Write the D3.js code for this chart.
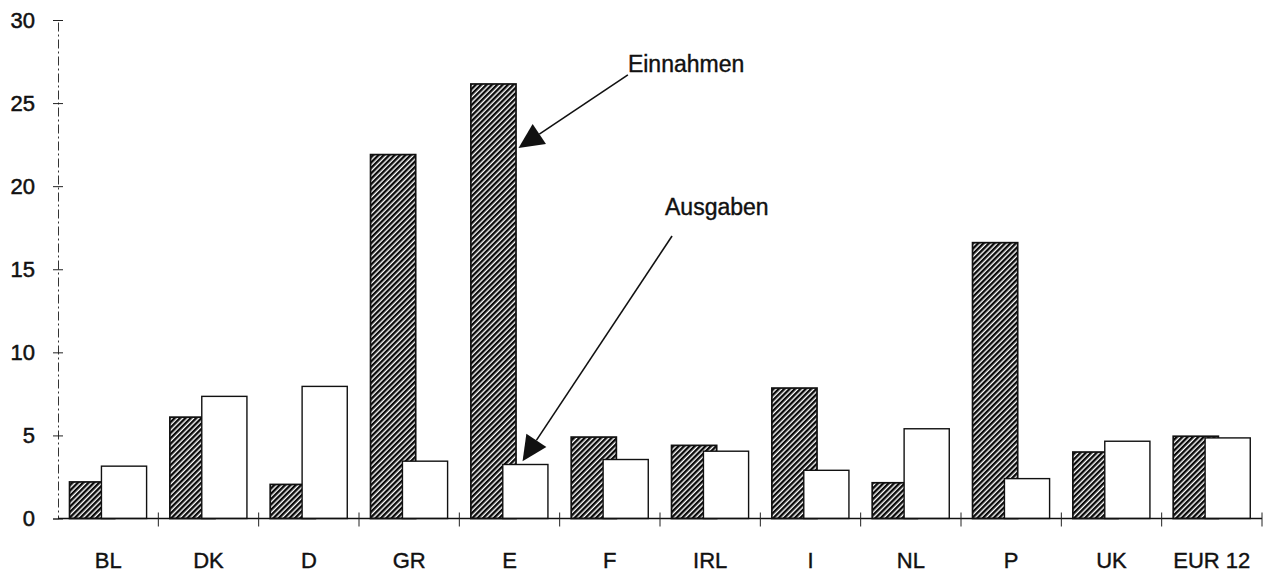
<!DOCTYPE html>
<html>
<head>
<meta charset="utf-8">
<script src="https://cdn.jsdelivr.net/npm/d3@7"></script>
<style>
  body { margin: 0; background: #fff; }
  text { font-family: "Liberation Sans", Arial, Helvetica, sans-serif; fill: #111; }
</style>
</head>
<body>
<div id="chart"></div>
<script>
// categories and values
const categories = ["BL", "DK", "D", "GR", "E", "F", "IRL", "I", "NL", "P", "UK", "EUR 12"];
const einnahmen = [2.2, 6.1, 2.05, 21.9, 26.15, 4.9, 4.4, 7.85, 2.15, 16.6, 4.0, 4.95];
const ausgaben = [3.15, 7.35, 7.95, 3.45, 3.25, 3.55, 4.05, 2.9, 5.4, 2.4, 4.65, 4.85];
const yTicks = [0, 5, 10, 15, 20, 25, 30];

// annotation positions in data units (index along x, value along y)
const annotations = [
  { text: "Einnahmen", labelAt: [5.68, 26.9], from: [5.68, 26.7], tip: [4.59, 22.3] },
  { text: "Ausgaben", labelAt: [6.05, 18.25], from: [6.12, 17.0], tip: [4.63, 3.45] }
];

const width = 1268, height = 573;
const margin = { top: 20, left: 58, right: 6, bottom: 54.5 };

const svg = d3.select("#chart")
  .append("svg")
  .attr("width", width)
  .attr("height", height);

// hatch pattern
const defs = svg.append("defs");
const pat = defs.append("pattern")
  .attr("id", "hatch")
  .attr("patternUnits", "userSpaceOnUse")
  .attr("width", 3.8)
  .attr("height", 3.8)
  .attr("patternTransform", "rotate(45)");
pat.append("rect").attr("width", 3.8).attr("height", 3.8).attr("fill", "#fff");
pat.append("rect").attr("width", 2.4).attr("height", 3.8).attr("fill", "#0a0a0a");

// scales
const x = d3.scaleBand()
  .domain(categories)
  .range([margin.left, width - margin.right])
  .padding(0);
const xIdx = d3.scaleLinear()
  .domain([0, categories.length])
  .range([margin.left, width - margin.right]);
const y = d3.scaleLinear()
  .domain([0, 30])
  .range([height - margin.bottom, margin.top]);

const bw = x.bandwidth();

// bars: hatched first, white drawn over it
const groups = svg.append("g").selectAll("g")
  .data(categories)
  .enter().append("g");

groups.append("rect")
  .attr("x", (d) => x(d) + bw * 0.115)
  .attr("width", bw * 0.45)
  .attr("y", (d, i) => y(einnahmen[i]))
  .attr("height", (d, i) => y(0) - y(einnahmen[i]))
  .attr("fill", "url(#hatch)")
  .attr("stroke", "#111")
  .attr("stroke-width", 1.7);

groups.append("rect")
  .attr("x", (d) => x(d) + bw * 0.433)
  .attr("width", bw * 0.45)
  .attr("y", (d, i) => y(ausgaben[i]))
  .attr("height", (d, i) => y(0) - y(ausgaben[i]))
  .attr("fill", "#fff")
  .attr("stroke", "#111")
  .attr("stroke-width", 1.4);

// y axis
const yAxis = svg.append("g")
  .attr("transform", `translate(${margin.left},0)`)
  .call(d3.axisLeft(y).tickValues(yTicks).tickSize(5).tickPadding(18));
yAxis.select(".domain")
  .attr("stroke", "#333")
  .attr("stroke-width", 1)
  .attr("stroke-dasharray", "9 3 2 3");
yAxis.selectAll(".tick line")
  .attr("x1", -5).attr("x2", 5)
  .attr("stroke", "#222");
yAxis.selectAll(".tick text")
  .attr("font-size", 22)
  .attr("font-family", "Liberation Sans, Arial, sans-serif")
  .attr("fill", "#111")
  .attr("stroke", "#111")
  .attr("stroke-width", 0.5);

// x axis with boundary ticks
const xAxisG = svg.append("g")
  .attr("transform", `translate(0,${y(0)})`);
xAxisG.append("line")
  .attr("x1", margin.left).attr("x2", width - margin.right)
  .attr("stroke", "#111").attr("stroke-width", 1.4);
xAxisG.selectAll(".bt")
  .data(d3.range(1, categories.length + 1))
  .enter().append("line")
  .attr("x1", (d) => xIdx(d)).attr("x2", (d) => xIdx(d))
  .attr("y1", -6).attr("y2", 8)
  .attr("stroke", "#222").attr("stroke-width", 1);

svg.append("g").selectAll("text")
  .data(categories)
  .enter().append("text")
  .attr("x", (d) => x(d) + bw / 2)
  .attr("y", y(0) + 49)
  .attr("text-anchor", "middle")
  .attr("font-size", 22)
  .attr("stroke", "#111")
  .attr("stroke-width", 0.4)
  .text((d) => d);

// annotations with arrows
const ann = svg.append("g");
annotations.forEach((a) => {
  const sx = xIdx(a.from[0]), sy = y(a.from[1]);
  const tx = xIdx(a.tip[0]), ty = y(a.tip[1]);
  const dx = tx - sx, dy = ty - sy;
  const len = Math.sqrt(dx * dx + dy * dy);
  const ux = dx / len, uy = dy / len;
  const headLen = 25, headHalf = 12;
  const bx = tx - ux * headLen, by = ty - uy * headLen;

  ann.append("line")
    .attr("x1", sx).attr("y1", sy)
    .attr("x2", bx).attr("y2", by)
    .attr("stroke", "#111").attr("stroke-width", 1.6);
  ann.append("polygon")
    .attr("points", [
      [tx, ty],
      [bx - uy * headHalf, by + ux * headHalf],
      [bx + uy * headHalf, by - ux * headHalf]
    ].map((p) => p.join(",")).join(" "))
    .attr("fill", "#111");
  ann.append("text")
    .attr("x", xIdx(a.labelAt[0]))
    .attr("y", y(a.labelAt[1]))
    .attr("font-size", 23)
    .attr("stroke", "#111")
    .attr("stroke-width", 0.4)
    .text(a.text);
});
</script>
</body>
</html>
